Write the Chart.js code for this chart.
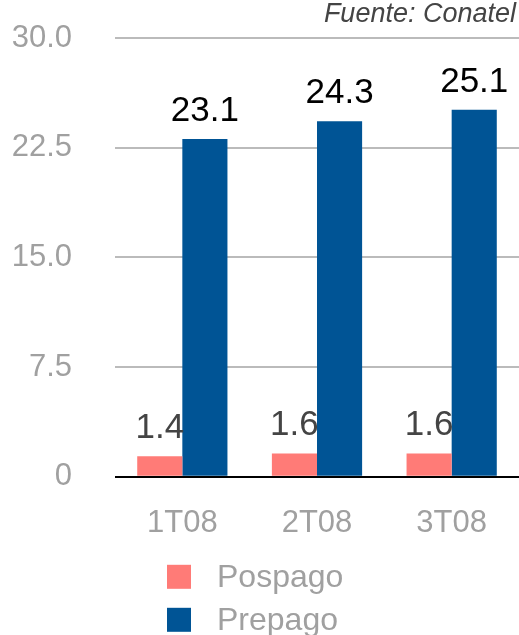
<!DOCTYPE html>
<html>
<head>
<meta charset="utf-8">
<script src="https://cdn.jsdelivr.net/npm/chart.js@4/dist/chart.umd.min.js"></script>
<style>
html,body{margin:0;padding:0;background:#fff;}
#wrap{position:relative;width:519px;height:635px;}
</style>
</head>
<body>
<div id="wrap"><canvas id="c" width="519" height="635"></canvas></div>
<script>
const categories = ['1T08', '2T08', '3T08'];
const pospago = [1.4, 1.6, 1.6];
const prepago = [23.1, 24.3, 25.1];
const seriesNames = ['Pospago', 'Prepago'];
const yTicks = [0, 7.5, 15, 22.5, 30];
const sourceText = 'Fuente: Conatel';

const FONT = '"Liberation Sans", Arial, Helvetica, sans-serif';
const PINK = '#ff7b77';
const BLUE = '#005495';

const valueLabels = {
  id: 'valueLabels',
  afterDatasetsDraw(chart) {
    const ctx = chart.ctx;
    ctx.save();
    ctx.font = '35px ' + FONT;
    ctx.textAlign = 'center';
    ctx.textBaseline = 'alphabetic';
    chart.data.datasets.forEach((ds, di) => {
      const meta = chart.getDatasetMeta(di);
      ctx.fillStyle = di === 0 ? '#444' : '#000';
      meta.data.forEach((bar, i) => {
        ctx.fillText(ds.data[i].toFixed(1), bar.x, bar.y - 18);
      });
    });
    ctx.restore();
  }
};

const customLegend = {
  id: 'customLegend',
  afterDraw(chart) {
    const ctx = chart.ctx;
    const area = chart.chartArea;
    ctx.save();
    ctx.font = '32px ' + FONT;
    ctx.textBaseline = 'middle';
    ctx.textAlign = 'left';
    chart.data.datasets.forEach((ds, di) => {
      const y = area.bottom + 88 + di * 43;
      ctx.fillStyle = ds.backgroundColor;
      ctx.fillRect(167, y, 24, 24);
      ctx.fillStyle = '#a0a0a0';
      ctx.fillText(ds.label, 217, y + 13);
    });
    // source
    ctx.font = 'italic 27px ' + FONT;
    ctx.fillStyle = '#444';
    ctx.textAlign = 'right';
    ctx.textBaseline = 'alphabetic';
    ctx.fillText(sourceText, chart.width - 3, 22);
    ctx.restore();
  }
};

new Chart(document.getElementById('c'), {
  type: 'bar',
  data: {
    labels: categories,
    datasets: [
      { label: seriesNames[0], data: pospago, backgroundColor: PINK, borderWidth: 0 },
      { label: seriesNames[1], data: prepago, backgroundColor: BLUE, borderWidth: 0 }
    ]
  },
  options: {
    responsive: false,
    animation: false,
    devicePixelRatio: 1,
    layout: { padding: { top: 38, right: 0, bottom: 73, left: 0 } },
    plugins: {
      legend: { display: false },
      title: { display: false },
      tooltip: { enabled: false }
    },
    datasets: { bar: { categoryPercentage: 0.67, barPercentage: 1.0 } },
    scales: {
      x: {
        grid: { display: false },
        border: { display: false },
        ticks: { color: '#a0a0a0', font: { family: FONT, size: 31 }, padding: 20 }
      },
      y: {
        min: 0, max: 30,
        afterBuildTicks(scale) { scale.ticks = yTicks.map(v => ({ value: v })); },
        afterFit(scale) { scale.width = 115; scale.paddingTop = 0; scale.paddingBottom = 0; },
        border: { display: false },
        grid: {
          drawTicks: false,
          lineWidth: 2,
          color: (c) => (c.tick && c.tick.value === 0) ? '#000' : '#bbbbbb'
        },
        ticks: {
          color: '#a0a0a0',
          font: { family: FONT, size: 31 },
          padding: 43,
          callback: (v) => v === 0 ? '0' : Number(v).toFixed(1)
        }
      }
    }
  },
  plugins: [valueLabels, customLegend]
});
</script>
</body>
</html>
